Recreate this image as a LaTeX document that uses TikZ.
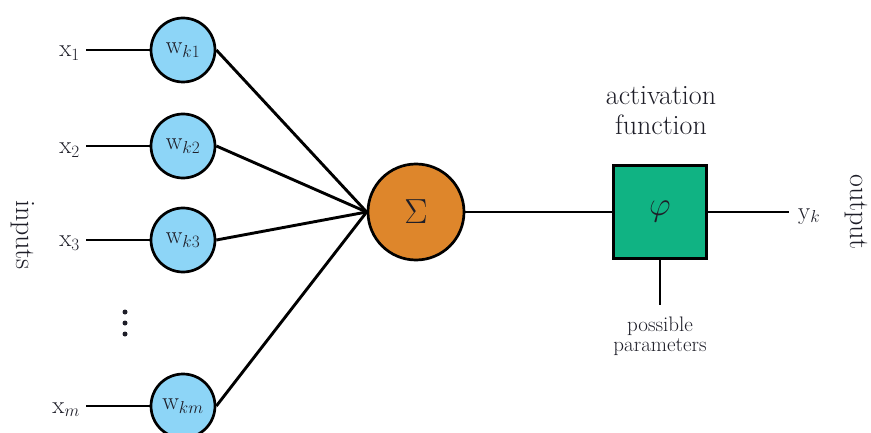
\documentclass[tikz,border=0pt]{standalone}
\definecolor{wblue}{RGB}{141,213,247}
\definecolor{sorange}{RGB}{222,134,43}
\definecolor{pgreen}{RGB}{16,179,131}
\definecolor{txt}{RGB}{30,30,40}
\begin{document}
\begin{tikzpicture}[x=1pt,y=-1pt,
  wt/.style={circle, draw=black, line width=2.7pt, fill=wblue, minimum size=64pt, inner sep=0pt, text=txt, font=\fontsize{24.88}{28}\selectfont},
  lbl/.style={inner sep=1pt, text=txt, font=\fontsize{24.88}{30}\selectfont},
  big/.style={inner sep=1pt, text=txt, font=\fontsize{28}{30}\selectfont},
  small/.style={inner sep=1pt, text=txt, align=center, font=\fontsize{21}{20}\selectfont},
  conn/.style={line width=2.9pt}
]
\useasboundingbox (0,0) rectangle (871,433);
% weights
\node[wt] (w1) at (183,50) {$\mathrm{w}_{\scriptscriptstyle k1}$};
\node[wt] (w2) at (183,146) {$\mathrm{w}_{\scriptscriptstyle k2}$};
\node[wt] (w3) at (183,240) {$\mathrm{w}_{\scriptscriptstyle k3}$};
\node[wt] (wm) at (183,406) {$\mathrm{w}_{\scriptscriptstyle km}$};
% inputs
\node[lbl, anchor=base east] (x1) at (81,57) {$\mathrm{x}_{\scriptscriptstyle 1}$};
\node[lbl, anchor=base east] (x2) at (81,154) {$\mathrm{x}_{\scriptscriptstyle 2}$};
\node[lbl, anchor=base east] (x3) at (81,247) {$\mathrm{x}_{\scriptscriptstyle 3}$};
\node[lbl, anchor=base east] (xm) at (81,413) {$\mathrm{x}_{\scriptscriptstyle m}$};
\fill[txt] (125,312) circle (2.5pt) (125,323) circle (2.5pt) (125,334) circle (2.5pt);
\node[big, rotate=-90] (inp) at (23,235) {inputs};
% summation and activation
\node[circle, draw=black, line width=2.7pt, fill=sorange, minimum size=96pt, inner sep=0pt, text=txt, font=\fontsize{24.88}{30}\selectfont] (s) at (416,212) {\scalebox{1.4}{$\Sigma$}};
\node[rectangle, draw=black, line width=2.7pt, fill=pgreen, minimum size=93pt, inner sep=0pt, text=txt, font=\fontsize{24.88}{30}\selectfont] (f) at (660,212) {\scalebox{1.35}{$\varphi$}};
\node[big, align=center] (act) at (661,111) {activation\\function};
\node[lbl, anchor=base west] (yk) at (797,219) {$\mathrm{y}_{\scriptscriptstyle k}$};
\node[big, rotate=-90] (out) at (856,212) {output};
\node[small, anchor=north] (pp) at (660,316) {possible\\parameters};
% connectors
\foreach \w/\x in {w1/x1,w2/x2,w3/x3,wm/xm}{
  \draw[conn] ([xshift=5pt]\w.west -| \x.east) -- (\w.west);
  \draw[conn] (\w.east) -- (s.west);
}
\draw[conn] (s.east) -- (f.west);
\draw[conn] (f.east) -- ([xshift=-8pt]f.east -| yk.west);
\draw[conn] (f.south) -- ([yshift=11pt]pp.north);
\end{tikzpicture}
\end{document}
